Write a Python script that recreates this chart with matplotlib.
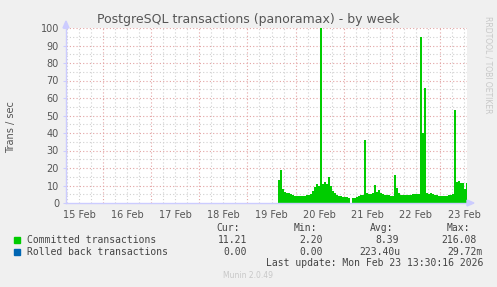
"""Munin style weekly chart: PostgreSQL transactions (panoramax)."""

from datetime import datetime, timedelta
import numpy as np
import matplotlib
matplotlib.use("Agg")
import matplotlib.pyplot as plt

# Visible window of the week graph.
WINDOW_START = datetime(2026, 2, 15, 5, 30)
WINDOW_END = datetime(2026, 2, 23, 13, 30)
# First hourly sample of the committed series.
DATA_START = datetime(2026, 2, 19, 15, 0)

# Committed transactions / sec, one value per hour (nan = no data).
committed = [
    13, 19, 8, 6.5, 6, 5.5, 5, 4.5, 4, 4, 3.8, 3.8, 3.8, 4, 4.3, 4.5,
    5, 7, 9, 11, 9.5, 216, 11, 12, 11, 15, 10, 7, 5.5, 4.5, 4, 3.8,
    3.5, 3.5, 3.2, 3, np.nan, 3, 3, 3.5, 4, 4.4, 4.5, 36, 6, 5.3, 5, 5.5,
    10.5, 6.5, 7.6, 5.5, 5, 4.8, 4.8, 4.5, 4, 3.8, 16, 8.5, 5.7, 4.5, 4.4, 4.4,
    4.4, 4.5, 4.8, 5.1, 5.3, 5, 5.3, 95, 40, 66, 6, 5, 5.5, 5, 4.8, 4.5,
    4, 3.8, 3.8, 3.8, 4, 4.5, 4.8, 5, 53, 12, 12.5, 11.5, 11.5, 8, 11.2,
]
# Rolled back transactions are practically zero all along.
rolled_back = [0.0] * len(committed)

y_ticks = list(range(0, 101, 10))
day_labels = ["15 Feb", "16 Feb", "17 Feb", "18 Feb", "19 Feb",
              "20 Feb", "21 Feb", "22 Feb", "23 Feb"]

legend_rows = [
    ("Committed transactions", "#00CC00", ["11.21", "2.20", "8.39", "216.08"]),
    ("Rolled back transactions", "#0066B3", ["0.00", "0.00", "223.40u", "29.72m"]),
]
col_heads = ["Cur:", "Min:", "Avg:", "Max:"]

W, H = 497, 287
BG = "#F0F0F0"
TXT = "#555555"
AXIS = "#CCCCFF"
MAJOR = "#E3A3A3"
MINOR = "#D0D0D0"


def px(x, y):
    """Pixel coords (top-left origin) to figure fraction."""
    return x / W, 1 - y / H


def steps(values):
    """Turn hourly samples into explicit step edges (each sample fills its hour)."""
    xs, ys = [], []
    for i, v in enumerate(values):
        t = DATA_START + timedelta(hours=i)
        xs += [t, t + timedelta(hours=1)]
        ys += [v, v]
    return xs, np.array(ys, dtype=float)


def main():
    fig = plt.figure(figsize=(W / 100, H / 100), dpi=100, facecolor=BG)
    left, right, top, bottom = 66, 467, 28, 203
    ax = fig.add_axes([left / W, 1 - bottom / H, (right - left) / W, (bottom - top) / H])
    ax.set_facecolor("white")

    xs, ys = steps(committed)
    ax.fill_between(xs, 0, ys, color="#00CC00", linewidth=0)
    xr, yr = steps(rolled_back)
    ax.plot(xr, yr, color="#0066B3", linewidth=0.6)

    ax.set_xlim(WINDOW_START, WINDOW_END)
    ax.set_ylim(0, 100)

    # Grid: red dotted at midnight / every 10, grey dotted at 6h / every 5.
    midnights = [datetime(2026, 2, d) for d in range(16, 24)]
    sixes = [WINDOW_START.replace(hour=6, minute=0) + timedelta(hours=6 * k) for k in range(34)]
    for t in sixes:
        if WINDOW_START < t < WINDOW_END and t.hour != 0:
            ax.axvline(t, color=MINOR, linestyle=(0, (1, 2)), linewidth=0.8, zorder=0)
    for t in midnights:
        ax.axvline(t, color=MAJOR, linestyle=(0, (1, 2)), linewidth=0.8, zorder=0)
    for v in range(5, 101, 10):
        ax.axhline(v, color=MINOR, linestyle=(0, (1, 2)), linewidth=0.8, zorder=0)
    for v in y_ticks[1:]:
        ax.axhline(v, color=MAJOR, linestyle=(0, (1, 2)), linewidth=0.8, zorder=0)

    # Labels: days centred at noon.
    noons = [datetime(2026, 2, 15 + i, 12) for i in range(len(day_labels))]
    ax.set_xticks(noons)
    ax.set_xticklabels(day_labels)
    ax.tick_params(axis="x", length=0, pad=5, labelsize=7, labelcolor=TXT)
    ax.set_yticks(y_ticks)
    ax.tick_params(axis="y", length=2, color=AXIS, pad=3, labelsize=7, labelcolor=TXT)
    for s in ("top", "right"):
        ax.spines[s].set_visible(False)
    for s in ("left", "bottom"):
        ax.spines[s].set_color(AXIS)
        ax.spines[s].set_linewidth(1)

    # Axis arrows.
    fig.patches.append(plt.Polygon([px(63, 28), px(69, 28), px(66, 21)], closed=True,
                                   transform=fig.transFigure, color=AXIS))
    fig.patches.append(plt.Polygon([px(467, 200), px(467, 206), px(474, 203)], closed=True,
                                   transform=fig.transFigure, color=AXIS))

    fig.text(*px(248, 19), "PostgreSQL transactions (panoramax) - by week",
             ha="center", va="center", fontsize=9, color=TXT)
    fig.text(*px(11, 127), "Trans / sec", rotation=90, ha="center", va="center",
             fontsize=7, color=TXT)
    fig.text(*px(488, 65), "RRDTOOL / TOBI OETIKER", rotation=270, ha="center",
             va="center", fontsize=5.5, color="#C8C8C8")

    mono = "DejaVu Sans Mono"
    col_right = [[247, 323, 399, 477], [247, 323, 400, 483]]
    head_right = [240, 317, 393, 470]
    for head, x in zip(col_heads, head_right):
        fig.text(*px(x, 228), head, ha="right", va="center", fontsize=7,
                 family=mono, color="#444444")
    for r, (name, color, values) in enumerate(legend_rows):
        y = 240 + 12 * r
        fig.patches.append(plt.Rectangle(px(14, y + 3), 6 / W, 6 / H,
                                         transform=fig.transFigure, color=color))
        fig.text(*px(27, y), name, ha="left", va="center", fontsize=7,
                 family=mono, color="#444444")
        for v, x in zip(values, col_right[r]):
            fig.text(*px(x, y), v, ha="right", va="center", fontsize=7,
                     family=mono, color="#444444")
    fig.text(*px(483, 263), "Last update: Mon Feb 23 13:30:16 2026", ha="right",
             va="center", fontsize=7, family=mono, color="#444444")
    fig.text(*px(248, 276), "Munin 2.0.49", ha="center", va="center",
             fontsize=5.5, color="#C8C8C8")

    fig.savefig("out.png", dpi=100, facecolor=BG)


if __name__ == "__main__":
    main()
